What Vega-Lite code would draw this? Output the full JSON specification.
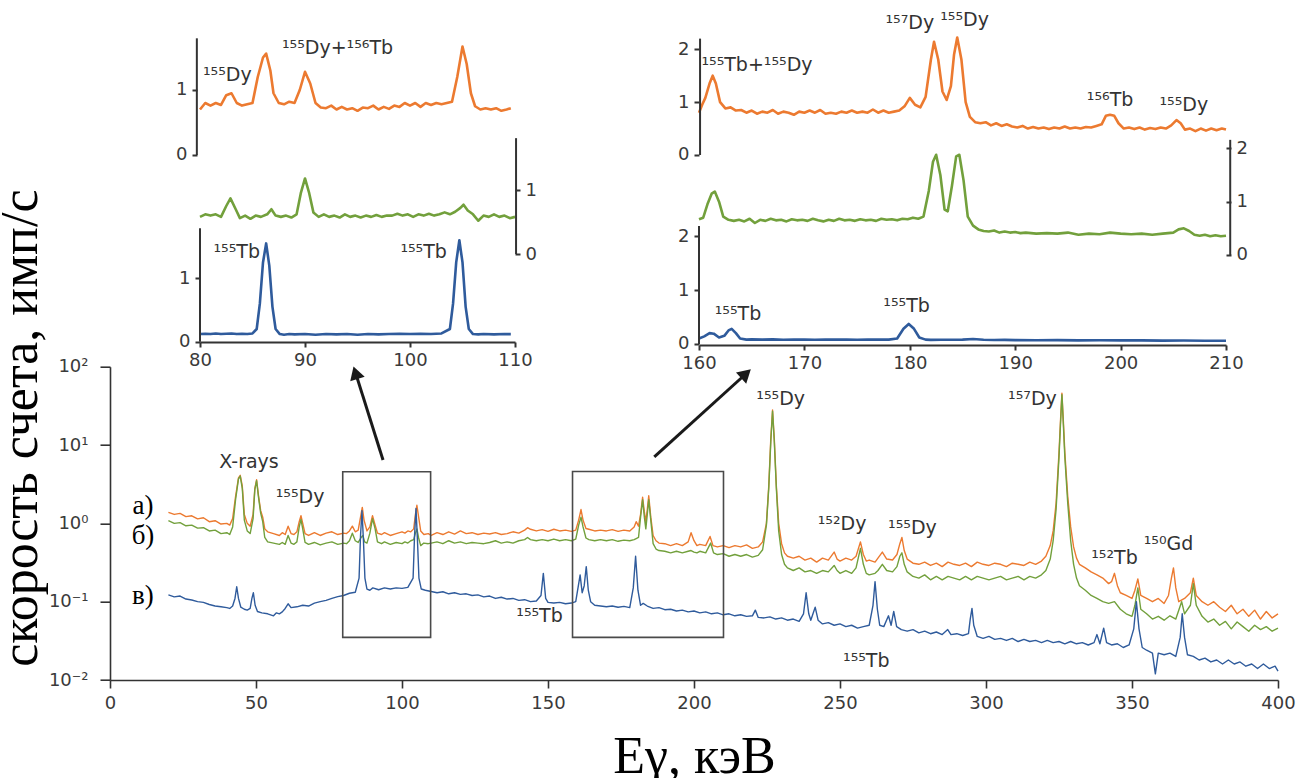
{
"$schema":"https://vega.github.io/schema/vega-lite/v6.json",
"autosize":{"type":"none"},
"padding":{"left":110,"top":30,"right":1188,"bottom":748},
"background":"white",
"config":{"view":{"stroke":null},"axis":{"grid":false,"labelFlush":false,"labelFont":"DejaVu Sans","labelFontSize":18,"labelColor":"#3a3a3a","domainColor":"#333","tickColor":"#333","domainWidth":1.6,"tickWidth":1.6},"text":{"font":"DejaVu Sans","fontSize":19,"color":"#333"},"line":{"strokeJoin":"round"}},
"datasets":{
"A":[{"x":20,"y":1.38},{"x":22,"y":1.3},{"x":24,"y":1.34},{"x":26,"y":1.22},{"x":28,"y":1.25},{"x":30,"y":1.14},{"x":32,"y":1.18},{"x":34,"y":1.05},{"x":36,"y":1.08},{"x":38,"y":0.98},{"x":40,"y":1.0},{"x":41,"y":0.95},{"x":42,"y":1.15},{"x":43,"y":2.2},{"x":44,"y":3.8},{"x":44.6,"y":4.1},{"x":45.3,"y":3.0},{"x":46,"y":1.3},{"x":47,"y":1.0},{"x":48,"y":0.92},{"x":49,"y":1.3},{"x":49.6,"y":2.8},{"x":50.2,"y":3.6},{"x":50.9,"y":2.2},{"x":51.6,"y":1.45},{"x":52.3,"y":1.2},{"x":53,"y":0.85},{"x":54,"y":0.78},{"x":56,"y":0.74},{"x":58,"y":0.7},{"x":59,"y":0.76},{"x":60,"y":0.72},{"x":61,"y":0.92},{"x":62,"y":0.74},{"x":63,"y":0.72},{"x":64,"y":0.78},{"x":64.8,"y":1.05},{"x":65.4,"y":1.25},{"x":66,"y":1.0},{"x":66.8,"y":0.74},{"x":68,"y":0.7},{"x":70,"y":0.76},{"x":72,"y":0.7},{"x":74,"y":0.75},{"x":76,"y":0.78},{"x":78,"y":0.72},{"x":80,"y":0.75},{"x":81,"y":0.74},{"x":82,"y":0.8},{"x":83,"y":0.92},{"x":84,"y":0.78},{"x":85,"y":0.82},{"x":85.8,"y":1.2},{"x":86.4,"y":1.6},{"x":87,"y":1.1},{"x":88,"y":0.8},{"x":89,"y":0.9},{"x":89.9,"y":1.25},{"x":90.8,"y":0.95},{"x":91.6,"y":0.75},{"x":93,"y":0.72},{"x":94,"y":0.76},{"x":96,"y":0.7},{"x":98,"y":0.74},{"x":100,"y":0.78},{"x":101,"y":0.75},{"x":102,"y":0.8},{"x":103,"y":0.78},{"x":104,"y":0.85},{"x":104.6,"y":1.3},{"x":105.1,"y":1.7},{"x":105.7,"y":1.2},{"x":106.4,"y":0.8},{"x":107.5,"y":0.72},{"x":109,"y":0.74},{"x":110,"y":0.7},{"x":112,"y":0.76},{"x":114,"y":0.72},{"x":116,"y":0.78},{"x":118,"y":0.73},{"x":120,"y":0.8},{"x":122,"y":0.74},{"x":124,"y":0.76},{"x":126,"y":0.72},{"x":128,"y":0.75},{"x":130,"y":0.73},{"x":132,"y":0.76},{"x":134,"y":0.72},{"x":136,"y":0.74},{"x":138,"y":0.78},{"x":140,"y":0.75},{"x":142,"y":0.82},{"x":143,"y":0.88},{"x":144,"y":0.84},{"x":146,"y":0.8},{"x":148,"y":0.83},{"x":150,"y":0.79},{"x":152,"y":0.84},{"x":154,"y":0.8},{"x":156,"y":0.82},{"x":158,"y":0.79},{"x":159.5,"y":0.82},{"x":160.5,"y":1.1},{"x":161.3,"y":1.5},{"x":162,"y":1.1},{"x":163,"y":0.86},{"x":164,"y":0.84},{"x":166,"y":0.8},{"x":168,"y":0.82},{"x":170,"y":0.8},{"x":172,"y":0.83},{"x":174,"y":0.79},{"x":176,"y":0.82},{"x":178,"y":0.8},{"x":179.5,"y":0.9},{"x":180.2,"y":1.05},{"x":181,"y":0.92},{"x":181.7,"y":1.3},{"x":182.4,"y":2.15},{"x":183,"y":1.4},{"x":183.5,"y":1.05},{"x":184,"y":1.5},{"x":184.5,"y":2.25},{"x":185.2,"y":1.2},{"x":186,"y":0.7},{"x":187,"y":0.6},{"x":188,"y":0.56},{"x":190,"y":0.55},{"x":192,"y":0.52},{"x":194,"y":0.55},{"x":196,"y":0.52},{"x":198,"y":0.58},{"x":199,"y":0.76},{"x":200,"y":0.6},{"x":201,"y":0.52},{"x":202,"y":0.54},{"x":204,"y":0.52},{"x":205.5,"y":0.68},{"x":206.5,"y":0.52},{"x":208,"y":0.5},{"x":210,"y":0.52},{"x":212,"y":0.49},{"x":214,"y":0.52},{"x":216,"y":0.5},{"x":218,"y":0.53},{"x":220,"y":0.48},{"x":222,"y":0.5},{"x":223.5,"y":0.58},{"x":224.8,"y":1.0},{"x":225.6,"y":3.0},{"x":226.3,"y":12},{"x":226.9,"y":28},{"x":227.5,"y":12},{"x":228.2,"y":3.0},{"x":229,"y":1.0},{"x":230,"y":0.55},{"x":231,"y":0.42},{"x":232,"y":0.38},{"x":234,"y":0.36},{"x":236,"y":0.38},{"x":238,"y":0.34},{"x":240,"y":0.36},{"x":242,"y":0.32},{"x":244,"y":0.36},{"x":246,"y":0.34},{"x":248,"y":0.43},{"x":249,"y":0.35},{"x":250,"y":0.33},{"x":252,"y":0.36},{"x":254,"y":0.34},{"x":255.5,"y":0.38},{"x":257,"y":0.58},{"x":258,"y":0.4},{"x":259,"y":0.33},{"x":260,"y":0.34},{"x":262,"y":0.32},{"x":263,"y":0.36},{"x":264.5,"y":0.43},{"x":266,"y":0.35},{"x":268,"y":0.34},{"x":269.5,"y":0.4},{"x":270.5,"y":0.55},{"x":271.2,"y":0.66},{"x":272,"y":0.45},{"x":273,"y":0.35},{"x":275,"y":0.31},{"x":277,"y":0.3},{"x":279,"y":0.32},{"x":281,"y":0.29},{"x":283,"y":0.31},{"x":285,"y":0.28},{"x":287,"y":0.32},{"x":289,"y":0.3},{"x":291,"y":0.29},{"x":293,"y":0.31},{"x":295,"y":0.28},{"x":297,"y":0.32},{"x":299,"y":0.3},{"x":301,"y":0.29},{"x":303,"y":0.31},{"x":305,"y":0.3},{"x":307,"y":0.28},{"x":309,"y":0.31},{"x":311,"y":0.3},{"x":313,"y":0.29},{"x":315,"y":0.32},{"x":317,"y":0.3},{"x":319,"y":0.33},{"x":320.5,"y":0.38},{"x":322,"y":0.52},{"x":323,"y":0.8},{"x":324,"y":1.8},{"x":325,"y":8},{"x":325.5,"y":20},{"x":326,"y":46},{"x":326.5,"y":20},{"x":327,"y":8},{"x":328,"y":2.2},{"x":329,"y":0.9},{"x":330,"y":0.5},{"x":331,"y":0.36},{"x":332,"y":0.3},{"x":334,"y":0.27},{"x":336,"y":0.24},{"x":338,"y":0.22},{"x":340,"y":0.2},{"x":342,"y":0.17},{"x":343,"y":0.18},{"x":344,"y":0.23},{"x":345,"y":0.16},{"x":346,"y":0.13},{"x":348,"y":0.12},{"x":350,"y":0.11},{"x":351,"y":0.14},{"x":352,"y":0.195},{"x":353,"y":0.12},{"x":355,"y":0.11},{"x":357,"y":0.1},{"x":359,"y":0.11},{"x":361,"y":0.095},{"x":362.5,"y":0.12},{"x":363.5,"y":0.2},{"x":364.2,"y":0.27},{"x":365,"y":0.15},{"x":366,"y":0.1},{"x":368,"y":0.11},{"x":370,"y":0.13},{"x":371,"y":0.2},{"x":372,"y":0.12},{"x":374,"y":0.1},{"x":376,"y":0.09},{"x":378,"y":0.1},{"x":380,"y":0.085},{"x":382,"y":0.075},{"x":384,"y":0.09},{"x":386,"y":0.07},{"x":388,"y":0.08},{"x":390,"y":0.065},{"x":392,"y":0.078},{"x":394,"y":0.06},{"x":396,"y":0.075},{"x":398,"y":0.062},{"x":400,"y":0.07}],
"B":[{"x":20,"y":1.08},{"x":22,"y":1.0},{"x":24,"y":1.02},{"x":26,"y":0.93},{"x":28,"y":0.95},{"x":30,"y":0.87},{"x":32,"y":0.88},{"x":34,"y":0.8},{"x":36,"y":0.82},{"x":38,"y":0.74},{"x":40,"y":0.76},{"x":41,"y":0.72},{"x":42,"y":0.9},{"x":43,"y":2.0},{"x":44,"y":3.7},{"x":44.6,"y":4.0},{"x":45.3,"y":2.8},{"x":46,"y":1.1},{"x":47,"y":0.8},{"x":48,"y":0.74},{"x":49,"y":1.15},{"x":49.6,"y":2.7},{"x":50.2,"y":3.5},{"x":50.9,"y":2.1},{"x":51.6,"y":1.35},{"x":52.3,"y":1.05},{"x":53,"y":0.66},{"x":54,"y":0.58},{"x":56,"y":0.56},{"x":58,"y":0.54},{"x":59,"y":0.57},{"x":60,"y":0.54},{"x":61,"y":0.7},{"x":62,"y":0.56},{"x":63,"y":0.54},{"x":64,"y":0.58},{"x":64.8,"y":0.9},{"x":65.4,"y":1.12},{"x":66,"y":0.85},{"x":66.8,"y":0.57},{"x":68,"y":0.54},{"x":70,"y":0.57},{"x":72,"y":0.53},{"x":74,"y":0.56},{"x":76,"y":0.58},{"x":78,"y":0.54},{"x":80,"y":0.56},{"x":81,"y":0.55},{"x":82,"y":0.6},{"x":83,"y":0.75},{"x":84,"y":0.6},{"x":85,"y":0.57},{"x":86,"y":0.66},{"x":86.6,"y":0.7},{"x":87.2,"y":0.58},{"x":88,"y":0.56},{"x":89,"y":0.75},{"x":89.9,"y":1.15},{"x":90.8,"y":0.85},{"x":91.6,"y":0.58},{"x":93,"y":0.55},{"x":94,"y":0.58},{"x":96,"y":0.54},{"x":98,"y":0.57},{"x":100,"y":0.55},{"x":101,"y":0.58},{"x":102,"y":0.56},{"x":103,"y":0.6},{"x":104,"y":0.62},{"x":104.6,"y":0.75},{"x":105.1,"y":0.85},{"x":105.7,"y":0.65},{"x":106.4,"y":0.52},{"x":107.5,"y":0.56},{"x":109,"y":0.55},{"x":110,"y":0.56},{"x":112,"y":0.58},{"x":114,"y":0.55},{"x":116,"y":0.6},{"x":118,"y":0.56},{"x":120,"y":0.58},{"x":122,"y":0.55},{"x":124,"y":0.57},{"x":126,"y":0.56},{"x":128,"y":0.55},{"x":130,"y":0.57},{"x":132,"y":0.6},{"x":134,"y":0.56},{"x":136,"y":0.58},{"x":138,"y":0.56},{"x":140,"y":0.6},{"x":142,"y":0.62},{"x":143,"y":0.66},{"x":144,"y":0.62},{"x":146,"y":0.6},{"x":148,"y":0.62},{"x":150,"y":0.6},{"x":152,"y":0.63},{"x":154,"y":0.6},{"x":156,"y":0.62},{"x":158,"y":0.6},{"x":159.5,"y":0.63},{"x":160.5,"y":0.95},{"x":161.3,"y":1.2},{"x":162,"y":0.9},{"x":163,"y":0.65},{"x":164,"y":0.62},{"x":166,"y":0.6},{"x":168,"y":0.62},{"x":170,"y":0.6},{"x":172,"y":0.62},{"x":174,"y":0.59},{"x":176,"y":0.61},{"x":178,"y":0.6},{"x":179.5,"y":0.62},{"x":180.2,"y":0.64},{"x":181,"y":0.66},{"x":181.7,"y":1.2},{"x":182.4,"y":2.0},{"x":183,"y":1.2},{"x":183.5,"y":0.85},{"x":184,"y":1.3},{"x":184.5,"y":2.0},{"x":185.2,"y":1.1},{"x":186,"y":0.55},{"x":187,"y":0.47},{"x":188,"y":0.45},{"x":190,"y":0.44},{"x":192,"y":0.42},{"x":194,"y":0.44},{"x":196,"y":0.42},{"x":198,"y":0.44},{"x":199,"y":0.45},{"x":200,"y":0.43},{"x":201,"y":0.42},{"x":202,"y":0.44},{"x":204,"y":0.42},{"x":205.7,"y":0.56},{"x":206.7,"y":0.42},{"x":208,"y":0.4},{"x":210,"y":0.41},{"x":212,"y":0.38},{"x":214,"y":0.4},{"x":216,"y":0.38},{"x":218,"y":0.4},{"x":220,"y":0.37},{"x":222,"y":0.39},{"x":223.5,"y":0.46},{"x":224.8,"y":0.95},{"x":225.6,"y":2.8},{"x":226.3,"y":11},{"x":226.9,"y":27},{"x":227.5,"y":11},{"x":228.2,"y":2.8},{"x":229,"y":0.8},{"x":230,"y":0.4},{"x":231,"y":0.3},{"x":232,"y":0.27},{"x":234,"y":0.25},{"x":236,"y":0.27},{"x":238,"y":0.24},{"x":240,"y":0.25},{"x":242,"y":0.23},{"x":244,"y":0.25},{"x":246,"y":0.24},{"x":248,"y":0.29},{"x":249,"y":0.25},{"x":250,"y":0.23},{"x":252,"y":0.25},{"x":254,"y":0.23},{"x":255.5,"y":0.27},{"x":257,"y":0.48},{"x":258,"y":0.3},{"x":259,"y":0.23},{"x":260,"y":0.22},{"x":262,"y":0.23},{"x":263,"y":0.25},{"x":264.5,"y":0.3},{"x":266,"y":0.25},{"x":268,"y":0.24},{"x":269.5,"y":0.28},{"x":270.5,"y":0.38},{"x":271.2,"y":0.42},{"x":272,"y":0.3},{"x":273,"y":0.24},{"x":275,"y":0.21},{"x":277,"y":0.2},{"x":279,"y":0.22},{"x":281,"y":0.19},{"x":283,"y":0.21},{"x":285,"y":0.19},{"x":287,"y":0.21},{"x":289,"y":0.2},{"x":291,"y":0.19},{"x":293,"y":0.21},{"x":295,"y":0.19},{"x":297,"y":0.21},{"x":299,"y":0.2},{"x":301,"y":0.19},{"x":303,"y":0.2},{"x":305,"y":0.21},{"x":307,"y":0.19},{"x":309,"y":0.2},{"x":311,"y":0.21},{"x":313,"y":0.19},{"x":315,"y":0.21},{"x":317,"y":0.2},{"x":319,"y":0.22},{"x":320.5,"y":0.25},{"x":322,"y":0.35},{"x":323,"y":0.6},{"x":324,"y":1.5},{"x":325,"y":7},{"x":325.5,"y":18},{"x":326,"y":44},{"x":326.5,"y":18},{"x":327,"y":7},{"x":328,"y":1.8},{"x":329,"y":0.6},{"x":330,"y":0.3},{"x":331,"y":0.2},{"x":332,"y":0.16},{"x":334,"y":0.14},{"x":336,"y":0.12},{"x":338,"y":0.11},{"x":340,"y":0.1},{"x":342,"y":0.095},{"x":344,"y":0.1},{"x":346,"y":0.08},{"x":348,"y":0.07},{"x":350,"y":0.065},{"x":351,"y":0.09},{"x":352,"y":0.15},{"x":353,"y":0.08},{"x":355,"y":0.07},{"x":357,"y":0.06},{"x":359,"y":0.065},{"x":361,"y":0.058},{"x":363,"y":0.066},{"x":365,"y":0.06},{"x":367,"y":0.1},{"x":368,"y":0.07},{"x":370,"y":0.09},{"x":371,"y":0.17},{"x":372,"y":0.09},{"x":374,"y":0.065},{"x":376,"y":0.055},{"x":378,"y":0.06},{"x":380,"y":0.05},{"x":382,"y":0.056},{"x":384,"y":0.045},{"x":386,"y":0.055},{"x":388,"y":0.048},{"x":390,"y":0.042},{"x":392,"y":0.05},{"x":394,"y":0.044},{"x":396,"y":0.048},{"x":398,"y":0.042},{"x":400,"y":0.046}],
"C":[{"x":20,"y":0.122},{"x":22,"y":0.115},{"x":24,"y":0.118},{"x":26,"y":0.108},{"x":28,"y":0.105},{"x":30,"y":0.1},{"x":32,"y":0.098},{"x":34,"y":0.092},{"x":36,"y":0.088},{"x":38,"y":0.086},{"x":40,"y":0.084},{"x":41,"y":0.082},{"x":42,"y":0.088},{"x":42.8,"y":0.11},{"x":43.4,"y":0.155},{"x":44,"y":0.11},{"x":44.8,"y":0.085},{"x":46,"y":0.08},{"x":47,"y":0.078},{"x":48,"y":0.082},{"x":48.6,"y":0.11},{"x":49.1,"y":0.13},{"x":49.7,"y":0.09},{"x":50.5,"y":0.075},{"x":52,"y":0.072},{"x":54,"y":0.07},{"x":55,"y":0.068},{"x":56,"y":0.066},{"x":57,"y":0.072},{"x":58,"y":0.07},{"x":59,"y":0.074},{"x":60,"y":0.082},{"x":61,"y":0.094},{"x":62,"y":0.084},{"x":64,"y":0.086},{"x":66,"y":0.09},{"x":68,"y":0.088},{"x":70,"y":0.096},{"x":72,"y":0.1},{"x":74,"y":0.104},{"x":76,"y":0.11},{"x":78,"y":0.116},{"x":80,"y":0.12},{"x":82,"y":0.128},{"x":84,"y":0.132},{"x":85.3,"y":0.2},{"x":85.8,"y":0.7},{"x":86.3,"y":1.45},{"x":86.8,"y":0.6},{"x":87.3,"y":0.2},{"x":88,"y":0.145},{"x":89,"y":0.14},{"x":90,"y":0.15},{"x":92,"y":0.142},{"x":94,"y":0.15},{"x":96,"y":0.145},{"x":98,"y":0.15},{"x":100,"y":0.148},{"x":102,"y":0.152},{"x":103.8,"y":0.2},{"x":104.3,"y":0.7},{"x":104.8,"y":1.55},{"x":105.3,"y":0.6},{"x":105.8,"y":0.2},{"x":106.6,"y":0.145},{"x":108,"y":0.14},{"x":110,"y":0.135},{"x":112,"y":0.13},{"x":114,"y":0.134},{"x":116,"y":0.126},{"x":118,"y":0.13},{"x":120,"y":0.124},{"x":122,"y":0.126},{"x":124,"y":0.12},{"x":126,"y":0.122},{"x":128,"y":0.115},{"x":130,"y":0.118},{"x":132,"y":0.11},{"x":134,"y":0.114},{"x":136,"y":0.108},{"x":138,"y":0.11},{"x":140,"y":0.104},{"x":142,"y":0.106},{"x":144,"y":0.1},{"x":146,"y":0.102},{"x":147.6,"y":0.12},{"x":148.4,"y":0.23},{"x":149.2,"y":0.11},{"x":150,"y":0.098},{"x":152,"y":0.096},{"x":154,"y":0.098},{"x":156,"y":0.094},{"x":158,"y":0.096},{"x":159.5,"y":0.1},{"x":160.4,"y":0.16},{"x":161,"y":0.22},{"x":161.7,"y":0.13},{"x":162.4,"y":0.16},{"x":163.1,"y":0.28},{"x":163.8,"y":0.14},{"x":164.6,"y":0.1},{"x":166,"y":0.09},{"x":168,"y":0.088},{"x":170,"y":0.086},{"x":172,"y":0.088},{"x":174,"y":0.085},{"x":176,"y":0.087},{"x":178,"y":0.084},{"x":179.2,"y":0.15},{"x":180,"y":0.38},{"x":180.8,"y":0.14},{"x":181.7,"y":0.09},{"x":182.6,"y":0.095},{"x":184,"y":0.088},{"x":186,"y":0.082},{"x":188,"y":0.084},{"x":190,"y":0.079},{"x":192,"y":0.08},{"x":194,"y":0.076},{"x":196,"y":0.078},{"x":198,"y":0.074},{"x":200,"y":0.076},{"x":202,"y":0.072},{"x":204,"y":0.074},{"x":206,"y":0.07},{"x":208,"y":0.072},{"x":210,"y":0.068},{"x":212,"y":0.07},{"x":214,"y":0.066},{"x":216,"y":0.068},{"x":218,"y":0.065},{"x":220,"y":0.066},{"x":221,"y":0.078},{"x":222,"y":0.063},{"x":224,"y":0.062},{"x":226,"y":0.064},{"x":228,"y":0.06},{"x":230,"y":0.062},{"x":232,"y":0.058},{"x":234,"y":0.06},{"x":236,"y":0.056},{"x":237.5,"y":0.07},{"x":238.4,"y":0.13},{"x":239.3,"y":0.07},{"x":240,"y":0.058},{"x":241.5,"y":0.085},{"x":242.5,"y":0.058},{"x":244,"y":0.052},{"x":246,"y":0.054},{"x":248,"y":0.05},{"x":250,"y":0.052},{"x":252,"y":0.048},{"x":254,"y":0.05},{"x":256,"y":0.046},{"x":258,"y":0.048},{"x":260,"y":0.05},{"x":261.3,"y":0.09},{"x":262,"y":0.18},{"x":262.8,"y":0.08},{"x":263.6,"y":0.05},{"x":265,"y":0.048},{"x":266.6,"y":0.066},{"x":267.5,"y":0.05},{"x":268.4,"y":0.075},{"x":269.4,"y":0.048},{"x":271,"y":0.044},{"x":273,"y":0.042},{"x":275,"y":0.044},{"x":277,"y":0.04},{"x":279,"y":0.042},{"x":281,"y":0.039},{"x":283,"y":0.041},{"x":285,"y":0.038},{"x":286.9,"y":0.044},{"x":288,"y":0.038},{"x":290,"y":0.039},{"x":292,"y":0.037},{"x":294,"y":0.039},{"x":294.6,"y":0.06},{"x":295.2,"y":0.082},{"x":295.8,"y":0.05},{"x":297,"y":0.036},{"x":299,"y":0.034},{"x":301,"y":0.036},{"x":303,"y":0.033},{"x":305,"y":0.034},{"x":307,"y":0.032},{"x":309,"y":0.034},{"x":311,"y":0.031},{"x":313,"y":0.033},{"x":315,"y":0.031},{"x":317,"y":0.032},{"x":319,"y":0.03},{"x":321,"y":0.032},{"x":323,"y":0.03},{"x":325,"y":0.031},{"x":327,"y":0.029},{"x":329,"y":0.031},{"x":331,"y":0.029},{"x":333,"y":0.03},{"x":335,"y":0.028},{"x":337,"y":0.03},{"x":338,"y":0.038},{"x":339,"y":0.029},{"x":340.3,"y":0.046},{"x":341.3,"y":0.03},{"x":343,"y":0.028},{"x":345,"y":0.029},{"x":347,"y":0.026},{"x":349,"y":0.028},{"x":350.6,"y":0.045},{"x":351.5,"y":0.1},{"x":352.4,"y":0.045},{"x":353.5,"y":0.026},{"x":355,"y":0.024},{"x":357,"y":0.022},{"x":358,"y":0.012},{"x":359,"y":0.022},{"x":361,"y":0.021},{"x":363,"y":0.022},{"x":365,"y":0.02},{"x":366.5,"y":0.035},{"x":367.2,"y":0.07},{"x":368,"y":0.035},{"x":369,"y":0.021},{"x":371,"y":0.02},{"x":373,"y":0.018},{"x":375,"y":0.019},{"x":377,"y":0.017},{"x":379,"y":0.018},{"x":381,"y":0.016},{"x":383,"y":0.018},{"x":385,"y":0.016},{"x":387,"y":0.017},{"x":389,"y":0.015},{"x":391,"y":0.016},{"x":393,"y":0.014},{"x":395,"y":0.016},{"x":397,"y":0.014},{"x":399,"y":0.015},{"x":400,"y":0.013}],
"A1":[{"x":80,"y":0.7},{"x":80.5,"y":0.8},{"x":81,"y":0.76},{"x":81.5,"y":0.8},{"x":82,"y":0.77},{"x":82.5,"y":0.92},{"x":83,"y":0.95},{"x":83.5,"y":0.8},{"x":84,"y":0.76},{"x":84.5,"y":0.78},{"x":85,"y":0.8},{"x":85.5,"y":1.2},{"x":86,"y":1.5},{"x":86.3,"y":1.56},{"x":86.7,"y":1.3},{"x":87,"y":0.95},{"x":87.5,"y":0.8},{"x":88,"y":0.78},{"x":88.5,"y":0.82},{"x":89,"y":0.8},{"x":89.5,"y":1.0},{"x":90,"y":1.28},{"x":90.5,"y":1.1},{"x":91,"y":0.8},{"x":91.5,"y":0.73},{"x":92,"y":0.72},{"x":92.5,"y":0.76},{"x":93,"y":0.7},{"x":93.5,"y":0.74},{"x":94,"y":0.7},{"x":94.5,"y":0.72},{"x":95,"y":0.68},{"x":95.5,"y":0.73},{"x":96,"y":0.72},{"x":96.5,"y":0.76},{"x":97,"y":0.7},{"x":97.5,"y":0.74},{"x":98,"y":0.71},{"x":98.5,"y":0.76},{"x":99,"y":0.74},{"x":99.5,"y":0.8},{"x":100,"y":0.76},{"x":100.5,"y":0.8},{"x":101,"y":0.74},{"x":101.5,"y":0.8},{"x":102,"y":0.77},{"x":102.5,"y":0.8},{"x":103,"y":0.78},{"x":103.5,"y":0.8},{"x":104,"y":0.82},{"x":104.5,"y":1.2},{"x":105,"y":1.67},{"x":105.4,"y":1.4},{"x":105.8,"y":0.95},{"x":106.2,"y":0.75},{"x":106.7,"y":0.7},{"x":107.2,"y":0.72},{"x":107.7,"y":0.7},{"x":108.2,"y":0.72},{"x":108.7,"y":0.68},{"x":109.2,"y":0.7},{"x":109.6,"y":0.72}],
"B1":[{"x":80,"y":0.58},{"x":80.5,"y":0.62},{"x":81,"y":0.6},{"x":81.5,"y":0.62},{"x":82,"y":0.58},{"x":82.5,"y":0.75},{"x":82.9,"y":0.87},{"x":83.4,"y":0.7},{"x":83.8,"y":0.56},{"x":84.3,"y":0.6},{"x":84.8,"y":0.55},{"x":85.3,"y":0.6},{"x":85.8,"y":0.58},{"x":86.4,"y":0.62},{"x":86.8,"y":0.7},{"x":87.2,"y":0.6},{"x":87.7,"y":0.58},{"x":88.2,"y":0.6},{"x":88.7,"y":0.57},{"x":89.2,"y":0.62},{"x":89.6,"y":0.95},{"x":90,"y":1.18},{"x":90.4,"y":0.95},{"x":90.8,"y":0.65},{"x":91.3,"y":0.58},{"x":91.8,"y":0.62},{"x":92.3,"y":0.58},{"x":92.8,"y":0.6},{"x":93.3,"y":0.57},{"x":93.8,"y":0.62},{"x":94.3,"y":0.58},{"x":94.8,"y":0.6},{"x":95.3,"y":0.57},{"x":95.8,"y":0.6},{"x":96.3,"y":0.58},{"x":96.8,"y":0.61},{"x":97.3,"y":0.58},{"x":97.8,"y":0.6},{"x":98.3,"y":0.6},{"x":98.8,"y":0.63},{"x":99.3,"y":0.6},{"x":99.8,"y":0.62},{"x":100.3,"y":0.58},{"x":100.8,"y":0.62},{"x":101.3,"y":0.6},{"x":101.8,"y":0.63},{"x":102.3,"y":0.6},{"x":102.8,"y":0.62},{"x":103.3,"y":0.65},{"x":103.8,"y":0.62},{"x":104.3,"y":0.66},{"x":104.8,"y":0.72},{"x":105.1,"y":0.77},{"x":105.5,"y":0.68},{"x":106,"y":0.62},{"x":106.5,"y":0.52},{"x":107,"y":0.6},{"x":107.5,"y":0.58},{"x":108,"y":0.62},{"x":108.5,"y":0.58},{"x":109,"y":0.6},{"x":109.5,"y":0.56},{"x":110,"y":0.58}],
"C1":[{"x":80,"y":0.12},{"x":80.5,"y":0.125},{"x":81,"y":0.12},{"x":81.5,"y":0.13},{"x":82,"y":0.12},{"x":82.5,"y":0.125},{"x":83,"y":0.13},{"x":83.5,"y":0.12},{"x":84,"y":0.125},{"x":84.5,"y":0.12},{"x":85,"y":0.13},{"x":85.4,"y":0.2},{"x":85.7,"y":0.6},{"x":86,"y":1.25},{"x":86.3,"y":1.55},{"x":86.6,"y":1.2},{"x":86.9,"y":0.55},{"x":87.2,"y":0.2},{"x":87.6,"y":0.12},{"x":88,"y":0.11},{"x":88.5,"y":0.12},{"x":89,"y":0.115},{"x":90,"y":0.12},{"x":91,"y":0.11},{"x":92,"y":0.12},{"x":93,"y":0.115},{"x":94,"y":0.12},{"x":95,"y":0.11},{"x":96,"y":0.12},{"x":97,"y":0.115},{"x":98,"y":0.12},{"x":99,"y":0.125},{"x":100,"y":0.12},{"x":101,"y":0.125},{"x":102,"y":0.12},{"x":103,"y":0.13},{"x":103.8,"y":0.2},{"x":104.1,"y":0.6},{"x":104.4,"y":1.25},{"x":104.7,"y":1.6},{"x":105,"y":1.25},{"x":105.3,"y":0.55},{"x":105.6,"y":0.2},{"x":106,"y":0.12},{"x":106.5,"y":0.115},{"x":107,"y":0.12},{"x":108,"y":0.115},{"x":109,"y":0.12},{"x":109.6,"y":0.12}],
"A2":[{"x":160,"y":0.8},{"x":160.3,"y":0.95},{"x":160.6,"y":1.08},{"x":161,"y":1.35},{"x":161.3,"y":1.5},{"x":161.6,"y":1.35},{"x":162,"y":1.0},{"x":162.5,"y":0.88},{"x":163,"y":0.9},{"x":163.5,"y":0.84},{"x":164,"y":0.85},{"x":164.5,"y":0.8},{"x":165,"y":0.84},{"x":165.5,"y":0.78},{"x":166,"y":0.82},{"x":166.5,"y":0.8},{"x":167,"y":0.85},{"x":167.5,"y":0.78},{"x":168,"y":0.82},{"x":168.5,"y":0.8},{"x":169,"y":0.76},{"x":169.5,"y":0.82},{"x":170,"y":0.8},{"x":170.5,"y":0.84},{"x":171,"y":0.8},{"x":171.5,"y":0.85},{"x":172,"y":0.78},{"x":172.5,"y":0.8},{"x":173,"y":0.78},{"x":173.5,"y":0.82},{"x":174,"y":0.8},{"x":174.5,"y":0.84},{"x":175,"y":0.8},{"x":175.5,"y":0.82},{"x":176,"y":0.8},{"x":176.5,"y":0.86},{"x":177,"y":0.8},{"x":177.5,"y":0.84},{"x":178,"y":0.8},{"x":178.5,"y":0.82},{"x":179,"y":0.84},{"x":179.5,"y":0.92},{"x":180,"y":1.08},{"x":180.5,"y":0.95},{"x":181,"y":0.9},{"x":181.5,"y":1.1},{"x":182,"y":1.8},{"x":182.3,"y":2.14},{"x":182.7,"y":1.8},{"x":183.1,"y":1.2},{"x":183.5,"y":1.04},{"x":183.9,"y":1.3},{"x":184.2,"y":1.9},{"x":184.5,"y":2.22},{"x":184.9,"y":1.8},{"x":185.3,"y":1.0},{"x":185.7,"y":0.72},{"x":186.2,"y":0.62},{"x":186.7,"y":0.6},{"x":187.2,"y":0.62},{"x":187.7,"y":0.56},{"x":188.2,"y":0.6},{"x":188.7,"y":0.55},{"x":189.2,"y":0.58},{"x":189.7,"y":0.54},{"x":190.2,"y":0.52},{"x":190.7,"y":0.55},{"x":191.2,"y":0.5},{"x":191.7,"y":0.53},{"x":192.2,"y":0.5},{"x":192.7,"y":0.52},{"x":193.2,"y":0.49},{"x":193.7,"y":0.52},{"x":194.2,"y":0.5},{"x":194.7,"y":0.54},{"x":195.2,"y":0.5},{"x":195.7,"y":0.52},{"x":196.2,"y":0.5},{"x":196.7,"y":0.53},{"x":197.2,"y":0.52},{"x":197.7,"y":0.55},{"x":198.2,"y":0.58},{"x":198.6,"y":0.74},{"x":199,"y":0.76},{"x":199.4,"y":0.74},{"x":199.8,"y":0.6},{"x":200.3,"y":0.5},{"x":200.8,"y":0.52},{"x":201.3,"y":0.49},{"x":201.8,"y":0.52},{"x":202.3,"y":0.48},{"x":202.8,"y":0.51},{"x":203.3,"y":0.49},{"x":203.8,"y":0.52},{"x":204.3,"y":0.5},{"x":204.8,"y":0.56},{"x":205.3,"y":0.66},{"x":205.7,"y":0.6},{"x":206.1,"y":0.48},{"x":206.6,"y":0.5},{"x":207.1,"y":0.45},{"x":207.6,"y":0.5},{"x":208.1,"y":0.46},{"x":208.6,"y":0.5},{"x":209.1,"y":0.47},{"x":209.6,"y":0.5},{"x":210,"y":0.48}],
"B2":[{"x":160,"y":0.67},{"x":160.4,"y":0.7},{"x":160.8,"y":0.95},{"x":161.2,"y":1.15},{"x":161.5,"y":1.19},{"x":161.9,"y":1.0},{"x":162.3,"y":0.72},{"x":162.8,"y":0.66},{"x":163.3,"y":0.64},{"x":163.8,"y":0.66},{"x":164.3,"y":0.63},{"x":164.8,"y":0.68},{"x":165.3,"y":0.6},{"x":165.8,"y":0.66},{"x":166.3,"y":0.64},{"x":166.8,"y":0.68},{"x":167.3,"y":0.65},{"x":167.8,"y":0.66},{"x":168.3,"y":0.63},{"x":168.8,"y":0.67},{"x":169.3,"y":0.65},{"x":169.8,"y":0.66},{"x":170.3,"y":0.64},{"x":170.8,"y":0.68},{"x":171.3,"y":0.65},{"x":171.8,"y":0.63},{"x":172.3,"y":0.66},{"x":172.8,"y":0.64},{"x":173.3,"y":0.68},{"x":173.8,"y":0.65},{"x":174.3,"y":0.66},{"x":174.8,"y":0.64},{"x":175.3,"y":0.67},{"x":175.8,"y":0.65},{"x":176.3,"y":0.66},{"x":176.8,"y":0.64},{"x":177.3,"y":0.68},{"x":177.8,"y":0.66},{"x":178.3,"y":0.67},{"x":178.8,"y":0.65},{"x":179.3,"y":0.68},{"x":179.8,"y":0.67},{"x":180.3,"y":0.7},{"x":180.8,"y":0.68},{"x":181.3,"y":0.72},{"x":181.8,"y":1.2},{"x":182.2,"y":1.75},{"x":182.5,"y":1.88},{"x":182.9,"y":1.5},{"x":183.3,"y":0.85},{"x":183.6,"y":0.82},{"x":184,"y":1.3},{"x":184.4,"y":1.85},{"x":184.7,"y":1.88},{"x":185.1,"y":1.4},{"x":185.5,"y":0.72},{"x":186,"y":0.55},{"x":186.5,"y":0.48},{"x":187,"y":0.45},{"x":187.5,"y":0.44},{"x":188,"y":0.46},{"x":188.5,"y":0.42},{"x":189,"y":0.44},{"x":189.5,"y":0.42},{"x":190,"y":0.43},{"x":190.5,"y":0.41},{"x":191,"y":0.42},{"x":192,"y":0.4},{"x":193,"y":0.41},{"x":194,"y":0.4},{"x":195,"y":0.42},{"x":196,"y":0.38},{"x":197,"y":0.4},{"x":198,"y":0.39},{"x":199,"y":0.42},{"x":200,"y":0.4},{"x":201,"y":0.39},{"x":202,"y":0.4},{"x":203,"y":0.38},{"x":204,"y":0.4},{"x":205,"y":0.42},{"x":205.5,"y":0.48},{"x":206,"y":0.5},{"x":206.5,"y":0.45},{"x":207,"y":0.38},{"x":207.5,"y":0.36},{"x":208,"y":0.38},{"x":208.5,"y":0.35},{"x":209,"y":0.37},{"x":209.5,"y":0.35},{"x":210,"y":0.36}],
"C2":[{"x":160,"y":0.1},{"x":160.5,"y":0.14},{"x":161,"y":0.2},{"x":161.4,"y":0.19},{"x":161.9,"y":0.12},{"x":162.4,"y":0.15},{"x":162.8,"y":0.25},{"x":163.1,"y":0.28},{"x":163.5,"y":0.2},{"x":163.9,"y":0.1},{"x":164.5,"y":0.08},{"x":165,"y":0.085},{"x":166,"y":0.08},{"x":167,"y":0.085},{"x":168,"y":0.078},{"x":169,"y":0.082},{"x":170,"y":0.08},{"x":171,"y":0.078},{"x":172,"y":0.082},{"x":173,"y":0.079},{"x":174,"y":0.08},{"x":175,"y":0.078},{"x":176,"y":0.082},{"x":177,"y":0.079},{"x":178,"y":0.08},{"x":178.8,"y":0.1},{"x":179.4,"y":0.28},{"x":179.9,"y":0.37},{"x":180.4,"y":0.28},{"x":180.9,"y":0.12},{"x":181.5,"y":0.08},{"x":182,"y":0.075},{"x":183,"y":0.078},{"x":184,"y":0.076},{"x":185,"y":0.08},{"x":186,"y":0.09},{"x":187,"y":0.078},{"x":188,"y":0.072},{"x":189,"y":0.075},{"x":190,"y":0.07},{"x":192,"y":0.068},{"x":194,"y":0.07},{"x":196,"y":0.066},{"x":198,"y":0.068},{"x":200,"y":0.065},{"x":202,"y":0.066},{"x":204,"y":0.062},{"x":206,"y":0.064},{"x":208,"y":0.06},{"x":210,"y":0.058}]
},
"bounds":"flush",
"spacing":336.7,
"vconcat":[
 {"hconcat":[
 {"width":89,"height":1,"data":{"values":[]},"mark":"point","encoding":{}},
 {"width":315,"height":312,
   "encoding":{"x":{"field":"x","type":"quantitative","scale":{"domain":[80,110],"nice":false,"zero":false},"axis":{"values":[80,90,100,110],"title":null,"tickSize":5,"labelPadding":4,"domainWidth":2,"tickWidth":2}}},
   "layer":[
    {"encoding":{"y":{"field":"y","type":"quantitative","scale":{"domain":[-2.877,1.923],"nice":false,"zero":false},"axis":{"orient":"left","values":[0,1],"domain":false,"title":null,"tickSize":5,"tickWidth":2,"labelPadding":5,"offset":3}}},
     "layer":[
      {"data":{"name":"A1"},"mark":{"type":"line","color":"#EC7A30","strokeWidth":2.6}},
      {"data":{"values":[{"x":79.7,"y":0,"y2":1.795}]},"mark":{"type":"rule","color":"#333","strokeWidth":2},"encoding":{"y2":{"field":"y2"}}},
      {"data":{"values":[{"x":82.6,"y":1.23,"t":"¹⁵⁵Dy"},{"x":93.1,"y":1.64,"t":"¹⁵⁵Dy+¹⁵⁶Tb"}]},"mark":{"type":"text"},"encoding":{"text":{"field":"t"}}}
     ]},
    {"encoding":{"y":{"field":"y","type":"quantitative","scale":{"domain":[-1.375,3.5],"nice":false,"zero":false},"axis":{"orient":"right","values":[0,1],"domain":false,"title":null,"tickSize":5,"tickWidth":2,"labelPadding":5}}},
     "layer":[
      {"data":{"name":"B1"},"mark":{"type":"line","color":"#72A03C","strokeWidth":2.6}},
      {"data":{"values":[{"x":110.1,"y":0,"y2":1.81}]},"mark":{"type":"rule","color":"#333","strokeWidth":2},"encoding":{"y2":{"field":"y2"}}}
     ]},
    {"encoding":{"y":{"field":"y","type":"quantitative","scale":{"domain":[-0.005,4.916],"nice":false,"zero":false},"axis":{"orient":"left","values":[0,1],"domain":false,"title":null,"tickSize":5,"tickWidth":2,"labelPadding":5}}},
     "layer":[
      {"data":{"name":"C1"},"mark":{"type":"line","color":"#2F5B9C","strokeWidth":2.6}},
      {"data":{"values":[{"x":80,"y":0,"y2":1.79}]},"mark":{"type":"rule","color":"#333","strokeWidth":2},"encoding":{"y2":{"field":"y2"}}},
      {"data":{"values":[{"x":83.5,"y":1.41,"t":"¹⁵⁵Tb"},{"x":101.3,"y":1.41,"t":"¹⁵⁵Tb"}]},"mark":{"type":"text"},"encoding":{"text":{"field":"t"}}}
     ]}
   ],
   "resolve":{"scale":{"y":"independent"}}},
 {"width":181.3,"height":1,"data":{"values":[]},"mark":"point","encoding":{}},
 {"width":527,"height":315,
   "encoding":{"x":{"field":"x","type":"quantitative","scale":{"domain":[160,210],"nice":false,"zero":false},"axis":{"values":[160,170,180,190,200,210],"title":null,"tickSize":5,"labelPadding":4,"domainWidth":2,"tickWidth":2}}},
   "layer":[
    {"encoding":{"y":{"field":"y","type":"quantitative","scale":{"domain":[-3.592,2.363],"nice":false,"zero":false},"axis":{"orient":"left","values":[0,1,2],"domain":false,"title":null,"tickSize":5,"tickWidth":2,"labelPadding":5}}},
     "layer":[
      {"data":{"name":"A2"},"mark":{"type":"line","color":"#EC7A30","strokeWidth":2.6}},
      {"data":{"values":[{"x":160.1,"y":0,"y2":2.2}]},"mark":{"type":"rule","color":"#333","strokeWidth":2},"encoding":{"y2":{"field":"y2"}}},
      {"data":{"values":[{"x":165.5,"y":1.7,"t":"¹⁵⁵Tb+¹⁵⁵Dy"},{"x":180.0,"y":2.5,"t":"¹⁵⁷Dy"},{"x":185.2,"y":2.55,"t":"¹⁵⁵Dy"},{"x":199.0,"y":1.04,"t":"¹⁵⁶Tb"},{"x":206.0,"y":0.95,"t":"¹⁵⁵Dy"}]},"mark":{"type":"text"},"encoding":{"text":{"field":"t"}}}
     ]},
    {"encoding":{"y":{"field":"y","type":"quantitative","scale":{"domain":[-1.689,4.221],"nice":false,"zero":false},"axis":{"orient":"right","values":[0,1,2],"domain":false,"title":null,"tickSize":5,"tickWidth":2,"labelPadding":5}}},
     "layer":[
      {"data":{"name":"B2"},"mark":{"type":"line","color":"#72A03C","strokeWidth":2.6}},
      {"data":{"values":[{"x":210.4,"y":0,"y2":2.16}]},"mark":{"type":"rule","color":"#333","strokeWidth":2},"encoding":{"y2":{"field":"y2"}}}
     ]},
    {"encoding":{"y":{"field":"y","type":"quantitative","scale":{"domain":[-0.02,5.824],"nice":false,"zero":false},"axis":{"orient":"left","values":[0,1,2],"domain":false,"title":null,"tickSize":5,"tickWidth":2,"labelPadding":5}}},
     "layer":[
      {"data":{"name":"C2"},"mark":{"type":"line","color":"#2F5B9C","strokeWidth":2.6}},
      {"data":{"values":[{"x":160,"y":0,"y2":2.19}]},"mark":{"type":"rule","color":"#333","strokeWidth":2},"encoding":{"y2":{"field":"y2"}}},
      {"data":{"values":[{"x":163.7,"y":0.56,"t":"¹⁵⁵Tb"},{"x":179.7,"y":0.71,"t":"¹⁵⁵Tb"}]},"mark":{"type":"text"},"encoding":{"text":{"field":"t"}}}
     ]}
   ],
   "resolve":{"scale":{"y":"independent"}}}
 ],"spacing":1,"bounds":"flush"},
 {"width":1168,"height":313.3,
 "encoding":{
  "x":{"field":"x","type":"quantitative","scale":{"domain":[0,400],"nice":false,"zero":false},"axis":{"values":[0,50,100,150,200,250,300,350,400],"tickSize":8,"labelPadding":6,"title":"Eγ, кэВ","titleFont":"Liberation Serif","titleFontSize":52,"titleFontWeight":"normal","titleColor":"#000","titleBaseline":"middle","titleY":76}},
  "y":{"field":"y","type":"quantitative","scale":{"type":"log","domain":[0.01,100],"nice":false},"axis":{"values":[0.01,0.1,1,10,100],"tickSize":10,"labelPadding":12,"labelExpr":"datum.value > 50 ? '10²' : datum.value > 5 ? '10¹' : datum.value > 0.5 ? '10⁰' : datum.value > 0.05 ? '10⁻¹' : '10⁻²'","title":"скорость счета, имп/с","titleFont":"Liberation Serif","titleFontSize":52,"titleFontWeight":"normal","titleColor":"#000","titleBaseline":"middle","titleX":-90,"titleY":61,"titleAngle":-90}}
 },
 "layer":[
  {"data":{"name":"A"},"mark":{"type":"line","color":"#EC7A30","strokeWidth":1.4}},
  {"data":{"name":"B"},"mark":{"type":"line","color":"#72A03C","strokeWidth":1.4}},
  {"data":{"name":"C"},"mark":{"type":"line","color":"#2F5B9C","strokeWidth":1.4}},
  {"data":{"values":[{"x":79.7,"x2":109.8,"y":0.035,"y2":4.56},{"x":158.4,"x2":210.1,"y":0.035,"y2":4.6}]},"mark":{"type":"rect","fill":"transparent","stroke":"#4a4a4a","strokeWidth":1.6},"encoding":{"x2":{"field":"x2"},"y2":{"field":"y2"}}},
  {"data":{"values":[{"x":93.5,"y":6.43,"x2":84.07,"y2":83.9},{"x":186.4,"y":7.08,"x2":217.8,"y2":81.3}]},"mark":{"type":"rule","color":"#1a1a1a","strokeWidth":3},"encoding":{"x2":{"field":"x2"},"y2":{"field":"y2"}}},
  {"data":{"values":[{"x":84.07,"y":83.9}]},"mark":{"type":"point","shape":"triangle-up","filled":true,"size":230,"color":"#1a1a1a","opacity":1,"angle":342.5}},
  {"data":{"values":[{"x":217.8,"y":81.3}]},"mark":{"type":"point","shape":"triangle-up","filled":true,"size":230,"color":"#1a1a1a","opacity":1,"angle":47.8}},
  {"data":{"values":[{"x":47.6,"y":6.06,"t":"X-rays"},{"x":65.1,"y":2.17,"t":"¹⁵⁵Dy"},{"x":147.1,"y":0.0656,"t":"¹⁵⁵Tb"},{"x":229.7,"y":38.6,"t":"¹⁵⁵Dy"},{"x":250.7,"y":0.98,"t":"¹⁵²Dy"},{"x":259,"y":0.0175,"t":"¹⁵⁵Tb"},{"x":274.8,"y":0.88,"t":"¹⁵⁵Dy"},{"x":315.9,"y":38.6,"t":"¹⁵⁷Dy"},{"x":344,"y":0.366,"t":"¹⁵²Tb"},{"x":362.5,"y":0.544,"t":"¹⁵⁰Gd"}]},"mark":{"type":"text"},"encoding":{"text":{"field":"t"}}},
  {"data":{"values":[{"x":11.3,"y":1.66,"t":"а)"},{"x":11.3,"y":0.69,"t":"б)"},{"x":11.3,"y":0.118,"t":"в)"}]},"mark":{"type":"text","font":"Liberation Serif","fontSize":27,"color":"#000"},"encoding":{"text":{"field":"t"}}}
 ]}
]
}
